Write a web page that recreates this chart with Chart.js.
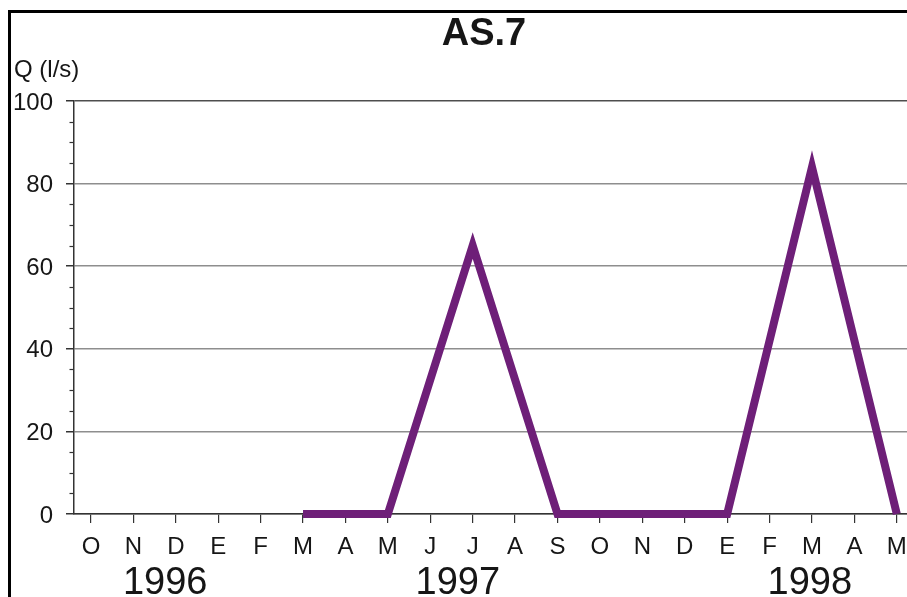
<!DOCTYPE html>
<html>
<head>
<meta charset="utf-8">
<script src="https://cdn.jsdelivr.net/npm/chart.js@4/dist/chart.umd.min.js"></script>
<style>
  html, body { margin: 0; padding: 0; background: #fff; overflow: hidden; }
  #wrap { position: relative; width: 907px; height: 597px; }
  #frame { position: absolute; left: 8px; top: 10px; width: 920px; height: 620px;
           border-left: 3px solid #000; border-top: 3px solid #000; pointer-events: none; }
  canvas { position: absolute; left: 0; top: 0; }
</style>
</head>
<body>
<div id="wrap">
  <canvas id="c" width="907" height="597"></canvas>
  <div id="frame"></div>
</div>
<script>
// Monthly labels, October 1996 to May 1998
const months = ['O','N','D','E','F','M','A','M','J','J','A','S','O','N','D','E','F','M','A','M'];
// Flow Q (l/s); null where no measurement was taken
const flow = [null, null, null, null, null, 0, 0, 0, null, 65, null, 0, 0, 0, 0, 0, null, 84, null, 0];
// Year captions and the month index they sit under
const years = ['1996', '1997', '1998'];
const yearPos = [1.75, 8.65, 16.95];
const yTicks = [0, 20, 40, 60, 80, 100];

const FONT = "'Liberation Sans', Arial, sans-serif";
const INK = '#161616';
const AXIS = '#333333';

const points = flow.map((v, i) => ({ x: i, y: v }));

const decorations = {
  id: 'decorations',
  afterDraw(chart) {
    const { ctx, chartArea, scales } = chart;
    const x = scales.x, y = scales.y;
    ctx.save();
    // minor ticks on the y axis every 5 units
    ctx.strokeStyle = AXIS;
    ctx.lineWidth = 1.2;
    for (let v = 5; v < 100; v += 5) {
      if (v % 20 === 0) continue;
      const py = Math.round(y.getPixelForValue(v)) + 0.5;
      ctx.beginPath();
      ctx.moveTo(chartArea.left - 4.5, py);
      ctx.lineTo(chartArea.left, py);
      ctx.stroke();
    }
    // title
    ctx.fillStyle = INK;
    ctx.textAlign = 'center';
    ctx.textBaseline = 'alphabetic';
    ctx.font = 'bold 38px ' + FONT;
    ctx.fillText('AS.7', 484, 45);
    // axis unit
    ctx.textAlign = 'left';
    ctx.font = '24px ' + FONT;
    ctx.fillText('Q (l/s)', 14, 77);
    // year captions
    ctx.textAlign = 'center';
    ctx.font = '38px ' + FONT;
    years.forEach((t, i) => ctx.fillText(t, x.getPixelForValue(yearPos[i]), 594));
    ctx.restore();
  }
};

new Chart(document.getElementById('c'), {
  type: 'line',
  data: {
    datasets: [{
      data: points,
      borderColor: '#6e1f78',
      borderWidth: 8,
      borderJoinStyle: 'miter',
      borderCapStyle: 'butt',
      pointRadius: 0,
      tension: 0,
      spanGaps: true,
      clip: false
    }]
  },
  options: {
    responsive: false,
    devicePixelRatio: 1,
    animation: false,
    events: [],
    layout: { padding: { top: 101, right: 0, left: 0, bottom: 0 } },
    plugins: { legend: { display: false }, title: { display: false }, tooltip: { enabled: false } },
    scales: {
      x: {
        type: 'linear',
        min: -0.4,
        max: 19.24,
        afterBuildTicks: s => { s.ticks = months.map((m, i) => ({ value: i })); },
        afterFit: s => { s.height = 83; s.paddingLeft = 0; s.paddingRight = 0; },
        ticks: {
          autoSkip: false,
          maxRotation: 0,
          padding: 10,
          color: INK,
          font: { family: FONT, size: 24 },
          callback: (v) => months[v]
        },
        grid: { drawOnChartArea: false, drawTicks: true, tickLength: 9, color: AXIS, lineWidth: 1.2 },
        border: { display: true, color: AXIS, width: 1.5 }
      },
      y: {
        min: 0,
        max: 100,
        afterBuildTicks: s => { s.ticks = yTicks.map(v => ({ value: v })); },
        afterFit: s => { s.width = 74; s.paddingTop = 0; s.paddingBottom = 0; },
        ticks: {
          padding: 13,
          labelOffset: 2,
          color: INK,
          font: { family: FONT, size: 24 },
          callback: v => String(v)
        },
        grid: {
          drawOnChartArea: true,
          drawTicks: true,
          tickLength: 8,
          tickColor: AXIS,
          lineWidth: 1.5,
          color: c => (c.tick && c.tick.value === 100) ? '#4e4e4e' : '#8e8e8e'
        },
        border: { display: true, color: AXIS, width: 1.5 }
      }
    }
  },
  plugins: [decorations]
});
</script>
</body>
</html>
